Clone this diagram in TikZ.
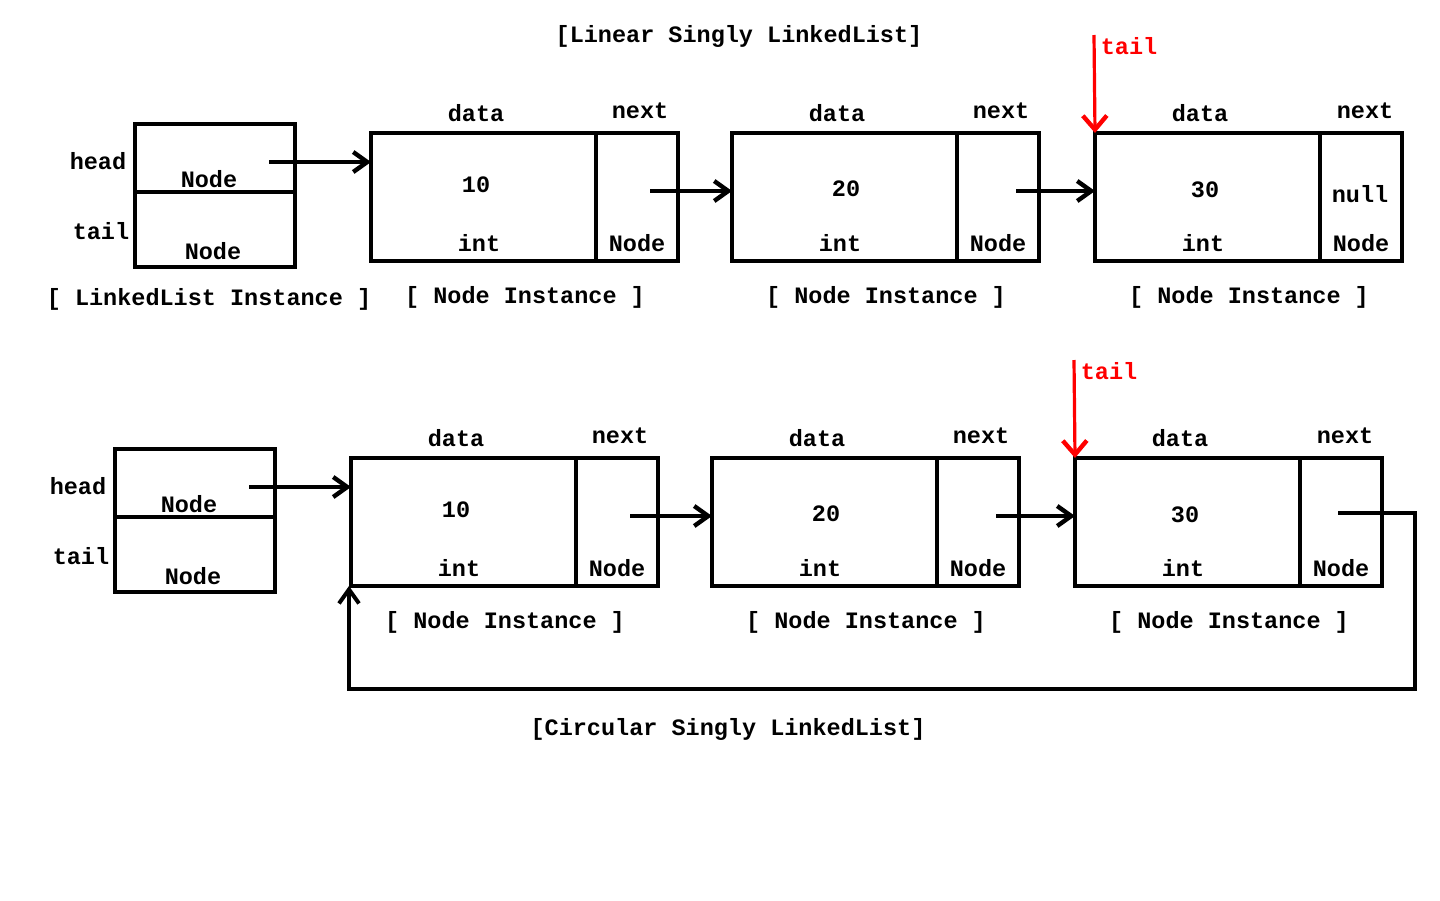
\documentclass[tikz,border=0pt]{standalone}
\usepackage{fontspec}
\setmainfont{Liberation Mono}
\usetikzlibrary{arrows.meta}
\tikzset{
  lbl/.style={font=\fontsize{11.75}{14}\selectfont\bfseries, inner sep=0pt},
  redlbl/.style={lbl, text=red},
  box/.style={draw=black, line width=2pt, inner sep=0pt, outer sep=0pt, anchor=north west},
  databox/.style={box, minimum width=112.5pt, minimum height=64pt},
  nextbox/.style={box, minimum width=41pt, minimum height=64pt},
  llbox/.style={box, minimum width=80pt},
  arr/.style={line width=2.2pt, -{Straight Barb[length=7pt,width=10pt,line width=2.2pt]}},
  redarr/.style={draw=red, line width=1.6pt, -{Straight Barb[length=7pt,width=12pt,line width=2.2pt]}},
  loopline/.style={line width=2pt, -{Straight Barb[length=7pt,width=10pt,line width=2pt]}}
}
\begin{document}
\begin{tikzpicture}[x=0.5pt,y=-0.5pt]
\useasboundingbox[fill=white] (0,0) rectangle (1440,900);

% ===== Linear =====
\node[lbl] (title1) at (739,36) {[Linear Singly LinkedList]};

\node[llbox, minimum height=34pt] (llh1) at (135,124) {};
\node[llbox, minimum height=37.5pt] (llt1) at (135,192) {};
\node[lbl] (headl1) at (98,161) {head};
\node[lbl] (taill1) at (101,231) {tail};
\node[lbl] (lln1) at (209,179) {Node};
\node[lbl] (lln2) at (213,251) {Node};
\node[lbl] (llinst1) at (209,299) {[ LinkedList Instance ]};

% node 1
\node[databox] (d1) at (371,133) {};
\node[nextbox] (n1) at (596,133) {};
\node[lbl] (d1data) at (476,113) {data};
\node[lbl] (d1next) at (640,111) {next};
\node[lbl] (d1val) at (476,185) {10};
\node[lbl] (d1int) at (479,243) {int};
\node[lbl] (d1node) at (637,243) {Node};
\node[lbl] (d1inst) at (525,297) {[ Node Instance ]};
% node 2
\node[databox] (d2) at (732,133) {};
\node[nextbox] (n2) at (957,133) {};
\node[lbl] (d2data) at (837,113) {data};
\node[lbl] (d2next) at (1001,111) {next};
\node[lbl] (d2val) at (846,189) {20};
\node[lbl] (d2int) at (840,243) {int};
\node[lbl] (d2node) at (998,243) {Node};
\node[lbl] (d2inst) at (886,297) {[ Node Instance ]};
% node 3
\node[databox] (d3) at (1095,133) {};
\node[nextbox] (n3) at (1320,133) {};
\node[lbl] (d3data) at (1200,113) {data};
\node[lbl] (d3next) at (1365,111) {next};
\node[lbl] (d3val) at (1205,190) {30};
\node[lbl] (d3null) at (1360,194) {null};
\node[lbl] (d3int) at (1203,243) {int};
\node[lbl] (d3node) at (1361,243) {Node};
\node[lbl] (d3inst) at (1249,297) {[ Node Instance ]};

\coordinate (s0) at (269,162);
\coordinate (s1) at (650,191);
\coordinate (s2) at (1016,191);
\draw[arr] (s0) -- (s0 -| d1.west);
\draw[arr] (s1) -- (s1 -| d2.west);
\draw[arr] (s2) -- (s2 -| d3.west);

\coordinate (t1) at (1094,35);
\draw[redarr] (t1) -- (d3.north west);
\node[redlbl] (tail1) at (1129,46) {tail};

% ===== Circular =====
\node[llbox, minimum height=34pt] (llh2) at (115,449) {};
\node[llbox, minimum height=37.5pt] (llt2) at (115,517) {};
\node[lbl] (headl2) at (78,486) {head};
\node[lbl] (taill2) at (81,556) {tail};
\node[lbl] (lln3) at (189,504) {Node};
\node[lbl] (lln4) at (193,576) {Node};

% node 4
\node[databox] (d4) at (351,458) {};
\node[nextbox] (n4) at (576,458) {};
\node[lbl] (d4data) at (456,438) {data};
\node[lbl] (d4next) at (620,436) {next};
\node[lbl] (d4val) at (456,510) {10};
\node[lbl] (d4int) at (459,568) {int};
\node[lbl] (d4node) at (617,568) {Node};
\node[lbl] (d4inst) at (505,622) {[ Node Instance ]};
% node 5
\node[databox] (d5) at (712,458) {};
\node[nextbox] (n5) at (937,458) {};
\node[lbl] (d5data) at (817,438) {data};
\node[lbl] (d5next) at (981,436) {next};
\node[lbl] (d5val) at (826,514) {20};
\node[lbl] (d5int) at (820,568) {int};
\node[lbl] (d5node) at (978,568) {Node};
\node[lbl] (d5inst) at (866,622) {[ Node Instance ]};
% node 6
\node[databox] (d6) at (1075,458) {};
\node[nextbox] (n6) at (1300,458) {};
\node[lbl] (d6data) at (1180,438) {data};
\node[lbl] (d6next) at (1345,436) {next};
\node[lbl] (d6val) at (1185,515) {30};
\node[lbl] (d6int) at (1183,568) {int};
\node[lbl] (d6node) at (1341,568) {Node};
\node[lbl] (d6inst) at (1229,622) {[ Node Instance ]};

\coordinate (s3) at (249,487);
\coordinate (s4) at (630,516);
\coordinate (s5) at (996,516);
\draw[arr] (s3) -- (s3 -| d4.west);
\draw[arr] (s4) -- (s4 -| d5.west);
\draw[arr] (s5) -- (s5 -| d6.west);

\coordinate (s6) at (1338,513);
\coordinate (c1) at (1415,513);
\coordinate (c2) at (1415,689);
\coordinate (c3) at (349,689);
\coordinate (c4) at (349,586);
\draw[loopline] (s6) -- (c1) -- (c2) -- (c3) -- (c4);

\coordinate (t2) at (1074,360);
\draw[redarr] (t2) -- (d6.north west);
\node[redlbl] (tail2) at (1109,371) {tail};

\node[lbl] (title2) at (728,729) {[Circular Singly LinkedList]};
\end{tikzpicture}
\end{document}
